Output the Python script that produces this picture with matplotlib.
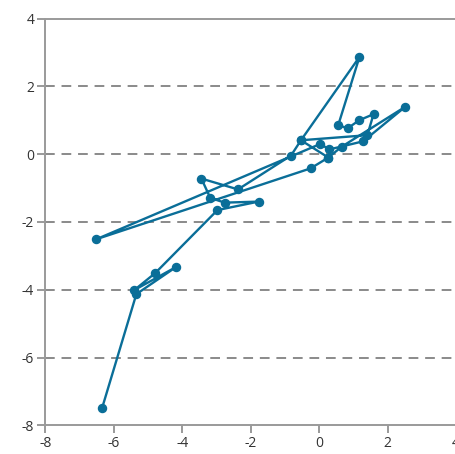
import matplotlib
matplotlib.use('Agg')
import matplotlib.pyplot as plt
import numpy as np

plt.rcParams['font.family'] = ['Open Sans', 'DejaVu Sans']
plt.rcParams['axes.unicode_minus'] = False

# path of the walk, in drawing order
xs = [-6.34, -5.34, -4.18, -5.40, -4.79, -2.97, -1.77, -2.76, -3.18, -3.44,
      -2.37, -0.82, -0.53, 1.18, 0.56, 0.83, 1.17, 1.59, 1.41, -0.53,
      0.27, 0.66, 2.52, 1.29, 0.30, 0.03, -6.51, -0.25, 0.27]
ys = [-7.49, -4.13, -3.33, -4.01, -3.51, -1.65, -1.40, -1.43, -1.29, -0.72,
      -1.04, -0.04, 0.41, 2.87, 0.86, 0.76, 1.00, 1.18, 0.56, 0.41,
      -0.10, 0.22, 1.40, 0.38, 0.14, 0.30, -2.51, -0.42, -0.10]

xticks = [-8, -6, -4, -2, 0, 2, 4]
yticks = [-8, -6, -4, -2, 0, 2, 4]
grid_y = [-6, -4, -2, 0, 2]

line_color = '#0a6e98'
axis_color = '#9a9a9a'

fig = plt.figure(figsize=(4.56, 4.54), dpi=100)
ax = fig.add_axes([45.3 / 456, 28.7 / 454, (456 - 45.3) / 456, (425.3 - 18.6) / 454])

for gy in grid_y:
    ax.axhline(gy, color='#8a8a8a', lw=1.4, dashes=(5, 3.5), zorder=1)

ax.plot(xs, ys, color=line_color, lw=1.7, marker='o', ms=5.8,
        markerfacecolor=line_color, markeredgecolor=line_color, zorder=3)

ax.set_xlim(-8, 4)
ax.set_ylim(-8, 4)
ax.set_xticks(xticks)
ax.set_yticks(yticks)

ax.spines['right'].set_visible(False)
for side in ['left', 'bottom', 'top']:
    ax.spines[side].set_color(axis_color)
    ax.spines[side].set_linewidth(1.4)

ax.tick_params(axis='both', direction='out', length=6, width=1.4, color=axis_color,
               labelsize=10, labelcolor='#333333', pad=2)

fig.savefig('out.png', dpi=100)
